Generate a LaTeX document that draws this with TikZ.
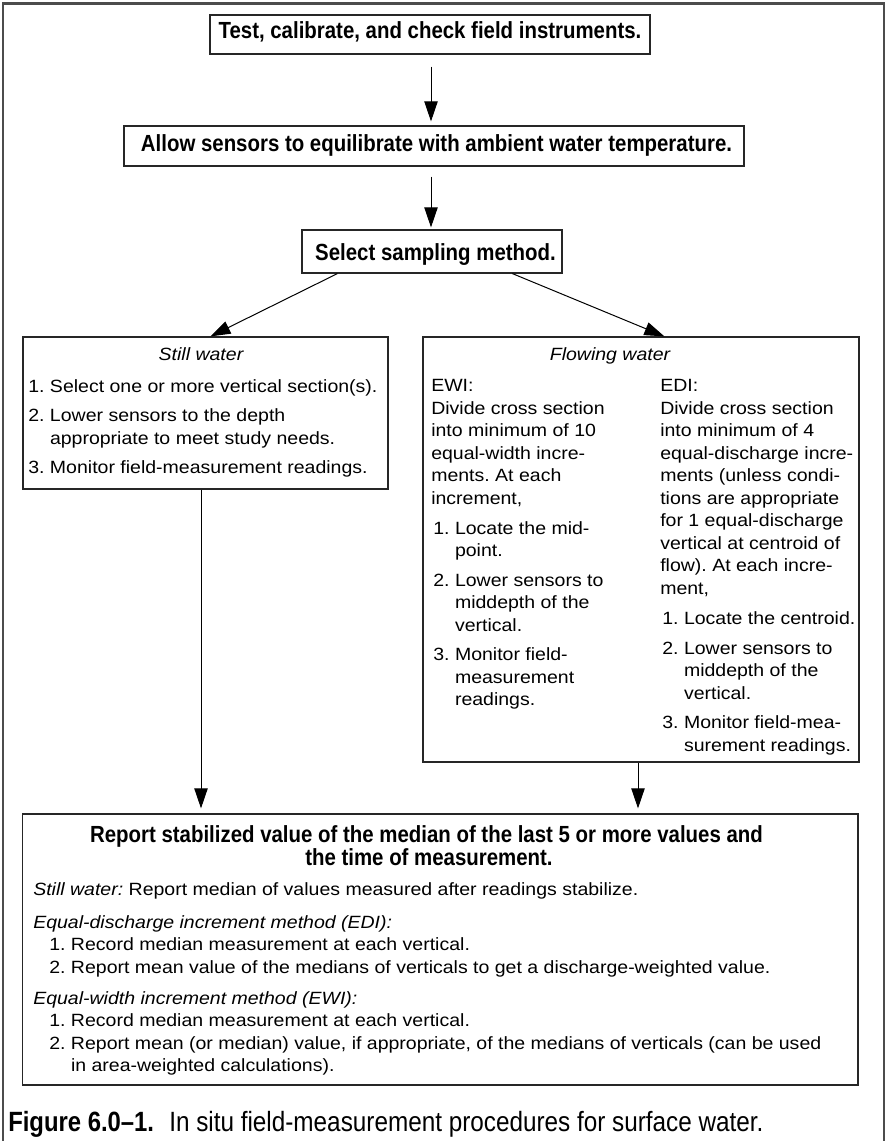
\documentclass[tikz,border=0pt]{standalone}
\usepackage{fontspec}
\setmainfont{Liberation Sans}
\newfontfamily\hdrfont[FakeStretch=0.875]{Liberation Sans}
\newfontfamily\bodyfont[FakeStretch=1.10]{Liberation Sans}
\newfontfamily\capregfont[FakeStretch=0.872]{Liberation Sans}
\newfontfamily\capboldfont[FakeStretch=0.856]{Liberation Sans}
\usetikzlibrary{arrows.meta,fit}
\newcommand\itm[1]{#1.\kern4.1pt}
\tikzset{
  outerframe/.style={line width=1.6pt, draw=black!70},
  box/.style={rectangle, draw=black!85, line width=0.9pt, inner sep=0pt},
  arr/.style={line width=0.75pt, -{Triangle[length=15pt,width=10pt]}},
  hdr/.style={font={\hdrfont\bfseries\fontsize{17.5}{20}\selectfont}, inner sep=0pt, anchor=base},
  body/.style={font={\bodyfont\frenchspacing\fontsize{13.3}{16.9}\selectfont}, inner sep=0pt, anchor=base west},
  title/.style={font={\bodyfont\itshape\fontsize{13.3}{16.9}\selectfont}, inner sep=0pt, anchor=base},
  capb/.style={font={\capboldfont\bfseries\fontsize{20.9}{24}\selectfont}, inner sep=0pt, anchor=base west},
  capr/.style={font={\capregfont\fontsize{20.9}{24}\selectfont}, inner sep=0pt, anchor=base west},
}
\begin{document}
\begin{tikzpicture}[x=0.75pt,y=-0.75pt]
\useasboundingbox (0,0) rectangle (887,1141);
\draw[outerframe] (3,1141) -- (3,3.5) -- (884,3.5) -- (884,1141);

% top boxes
\node[box, fit={(210,15) (650,54)}] (b1) {};
\node[hdr] (t1) at (430,39) {Test, calibrate, and check field instruments.};
\node[box, fit={(124,126) (744,166)}] (b2) {};
\node[hdr] (t2) at (436.5,151.7) {Allow sensors to equilibrate with ambient water temperature.};
\node[box, fit={(302,230) (562,273)}] (b3) {};
\node[hdr] (t3) at (435.5,260) {Select sampling method.};

% middle and bottom boxes
\node[box, fit={(23,337) (388,489)}] (still) {};
\node[box, fit={(423,337) (859,762)}] (flow) {};
\node[box, fit={(22.7,814) (858,1085)}] (bot) {};

% connectors
\draw[arr, shorten <=9pt, shorten >=3pt] ([xshift=0.75pt]b1.south) -- ([xshift=0.75pt]b1.south |- b2.north);
\draw[arr, shorten <=7.5pt, shorten >=1.5pt] ([xshift=-2.25pt]b2.south) -- ([xshift=-2.25pt]b2.south |- b3.north);
\draw[arr] ([xshift=27pt]b3.south west) -- ([xshift=141pt]still.north west);
\draw[arr] ([xshift=158.25pt]b3.south west) -- ([xshift=181.5pt]flow.north west);
\draw[arr, shorten >=3.75pt] ([xshift=-3.375pt]still.south) -- ([xshift=-3.375pt]still.south |- bot.north);
\draw[arr, shorten >=3.75pt] ([xshift=-2.25pt]flow.south) -- ([xshift=-2.25pt]flow.south |- bot.north);

% still water
\node[title] (stitle) at (201,360) {Still water};
\node[body] (slist) at (28,392.7) {\begin{tabular}[t]{@{}l@{}l@{}}\itm{1}&Select one or more vertical section(s).\\[4.9pt]\itm{2}&Lower sensors to the depth\\&appropriate to meet study needs.\\[4.9pt]\itm{3}&Monitor field-measurement readings.\end{tabular}};

% flowing water
\node[title] (ftitle) at (610,360) {Flowing water};
\node[body] (ewi) at (431,391.7) {\begin{tabular}[t]{@{}l@{}}EWI:\\Divide cross section\\into minimum of 10\\equal-width incre-\\ments. At each\\increment,\end{tabular}};
\node[body] (ewil) at (433,534) {\begin{tabular}[t]{@{}l@{}l@{}}\itm{1}&Locate the mid-\\&point.\\[5.3pt]\itm{2}&Lower sensors to\\&middepth of the\\&vertical.\\[5.3pt]\itm{3}&Monitor field-\\&measurement\\&readings.\end{tabular}};
\node[body] (edi) at (660,391.7) {\begin{tabular}[t]{@{}l@{}}EDI:\\Divide cross section\\into minimum of 4\\equal-discharge incre-\\ments (unless condi-\\tions are appropriate\\for 1 equal-discharge\\vertical at centroid of\\flow). At each incre-\\ment,\end{tabular}};
\node[body] (edil) at (662,624) {\begin{tabular}[t]{@{}l@{}l@{}}\itm{1}&Locate the centroid.\\[5.6pt]\itm{2}&Lower sensors to\\&middepth of the\\&vertical.\\[5.4pt]\itm{3}&Monitor field-mea-\\&surement readings.\end{tabular}};

% bottom box
\node[hdr] (bh1) at (426.5,842) {Report stabilized value of the median of the last 5 or more values and};
\node[hdr] (bh2) at (429,865) {the time of measurement.};
\node[body] (bstill) at (33,895) {{\itshape Still water:}\kern4.1pt Report median of values measured after readings stabilize.};
\node[body] (bedi) at (33,928) {\begin{tabular}[t]{@{}l@{}l@{}}\multicolumn{2}{@{}l@{}}{\itshape Equal-discharge increment method (EDI):}\\\hspace{12pt}\itm{1}&Record median measurement at each vertical.\\\hspace{12pt}\itm{2}&Report mean value of the medians of verticals to get a discharge-weighted value.\end{tabular}};
\node[body] (bewi) at (33,1004) {\begin{tabular}[t]{@{}l@{}l@{}}\multicolumn{2}{@{}l@{}}{\itshape Equal-width increment method (EWI):}\\\hspace{12pt}\itm{1}&Record median measurement at each vertical.\\\hspace{12pt}\itm{2}&Report mean (or median) value, if appropriate, of the medians of verticals (can be used\\&in area-weighted calculations).\end{tabular}};

% caption
\node[capb] (capa) at (8,1131.5) {Figure 6.0–1.};
\node[capr] (capt) at (169,1131.5) {In situ field-measurement procedures for surface water.};
\end{tikzpicture}
\end{document}
